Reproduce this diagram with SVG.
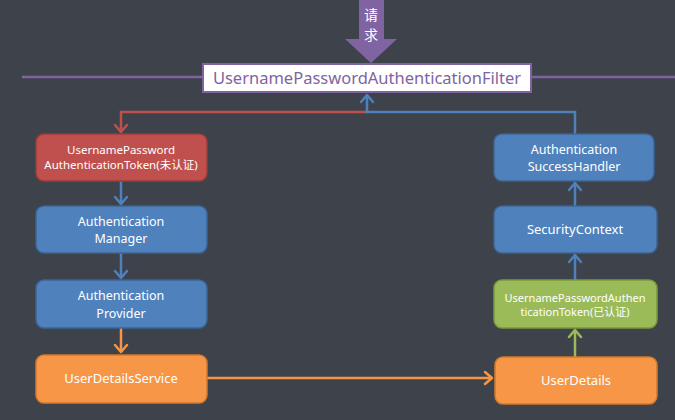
<svg xmlns="http://www.w3.org/2000/svg" width="675" height="420" viewBox="0 0 675 420">
<defs>
<style>
.t{font-family:"Noto Sans","Noto Sans CJK SC",sans-serif;fill:#fff;text-anchor:middle}
.box{stroke-width:1.5}
.ln{fill:none;stroke-width:2.5}
.hd{fill:none;stroke-width:2.5;stroke-linecap:round;stroke-linejoin:round}
</style>
</defs>
<rect width="675" height="420" fill="#3e424b"/>
<g id="request">
<line x1="22" y1="77" x2="675" y2="77" stroke="#8064a2" stroke-width="2.5"/>
<polygon points="359,0 384,0 384,39 397,39 371,63 345,39 359,39" fill="#8064a2"/>
<text class="t" x="371" y="20" font-size="14">请</text>
<text class="t" x="371" y="40" font-size="14">求</text>
</g>
<g id="filter">
<rect x="203" y="64" width="328" height="28" fill="#fff" stroke="#8064a2" stroke-width="2"/>
<text class="t" x="367" y="84" font-size="16.5" style="fill:#8064a2">UsernamePasswordAuthenticationFilter</text>
</g>
<g id="connectors">
<polyline class="ln" stroke="#c0504d" points="367,112 121,112 121,132"/>
<polyline class="hd" stroke="#c0504d" points="115,125 121,132 127,125"/>
<polyline class="ln" stroke="#4f81bd" points="575,134 575,112 367,112 367,95"/>
<polyline class="hd" stroke="#4f81bd" points="361,102 367,95 373,102"/>
<line class="ln" stroke="#4f81bd" x1="121" y1="181" x2="121" y2="204"/>
<polyline class="hd" stroke="#4f81bd" points="115,197 121,204 127,197"/>
<line class="ln" stroke="#4f81bd" x1="121" y1="253" x2="121" y2="278"/>
<polyline class="hd" stroke="#4f81bd" points="115,271 121,278 127,271"/>
<line class="ln" stroke="#f79646" x1="121" y1="328" x2="121" y2="352"/>
<polyline class="hd" stroke="#f79646" points="115,345 121,352 127,345"/>
<line class="ln" stroke="#f79646" x1="207" y1="378" x2="492" y2="378"/>
<polyline class="hd" stroke="#f79646" points="485,372 492,378 485,384"/>
<line class="ln" stroke="#9bbb59" x1="575" y1="357" x2="575" y2="330"/>
<polyline class="hd" stroke="#9bbb59" points="569,337 575,330 581,337"/>
<line class="ln" stroke="#4f81bd" x1="575" y1="280" x2="575" y2="255"/>
<polyline class="hd" stroke="#4f81bd" points="569,262 575,255 581,262"/>
<line class="ln" stroke="#4f81bd" x1="575" y1="206" x2="575" y2="183"/>
<polyline class="hd" stroke="#4f81bd" points="569,190 575,183 581,190"/>
</g>
<g id="token-unauth">
<rect class="box" x="36" y="134" width="171" height="47" rx="8" fill="#c0504d" stroke="#9c3b38"/>
<text class="t" x="121" y="154" font-size="11.5">UsernamePassword</text>
<text class="t" x="121" y="169" font-size="11.5">AuthenticationToken(未认证)</text>
</g>
<g id="auth-manager">
<rect class="box" x="36" y="206" width="171" height="47" rx="8" fill="#4f81bd" stroke="#3a6496"/>
<text class="t" x="121" y="225.5" font-size="12.5">Authentication</text>
<text class="t" x="121" y="243" font-size="12.5">Manager</text>
</g>
<g id="auth-provider">
<rect class="box" x="36" y="280" width="171" height="48" rx="8" fill="#4f81bd" stroke="#3a6496"/>
<text class="t" x="121" y="300" font-size="12.5">Authentication</text>
<text class="t" x="121" y="317.5" font-size="12.5">Provider</text>
</g>
<g id="user-details-service">
<rect class="box" x="36" y="355" width="171" height="48" rx="8" fill="#f79646" stroke="#d27a2e"/>
<text class="t" x="121" y="383" font-size="13">UserDetailsService</text>
</g>
<g id="success-handler">
<rect class="box" x="494" y="134" width="160" height="47" rx="8" fill="#4f81bd" stroke="#3a6496"/>
<text class="t" x="574" y="153.5" font-size="12.5">Authentication</text>
<text class="t" x="574" y="171" font-size="12.5">SuccessHandler</text>
</g>
<g id="security-context">
<rect class="box" x="494" y="206" width="163" height="47" rx="8" fill="#4f81bd" stroke="#3a6496"/>
<text class="t" x="575" y="234" font-size="13">SecurityContext</text>
</g>
<g id="token-auth">
<rect class="box" x="494" y="280" width="163" height="48" rx="8" fill="#9bbb59" stroke="#7a9a3d"/>
<text class="t" x="575" y="302" font-size="11">UsernamePasswordAuthen</text>
<text class="t" x="575" y="316" font-size="11">ticationToken(已认证)</text>
</g>
<g id="user-details">
<rect class="box" x="495" y="357" width="162" height="47" rx="8" fill="#f79646" stroke="#d27a2e"/>
<text class="t" x="576" y="385" font-size="13">UserDetails</text>
</g>
</svg>
